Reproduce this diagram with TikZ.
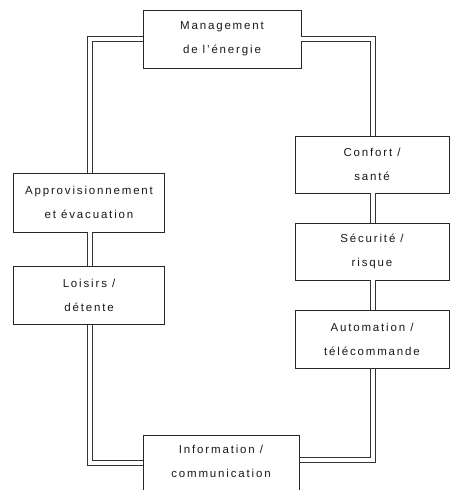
\documentclass[tikz,border=0pt]{standalone}
\usepackage{fontspec}
\setmainfont{Liberation Sans}[LetterSpace=16]
\begin{document}
\begin{tikzpicture}[x=1pt,y=-1pt,
  txt/.style={font=\fontsize{11.5}{24}\selectfont, align=center, text=black!90},
  box/.style={txt, draw=black!85, line width=0.7pt, fill=white, inner sep=0pt},
  loop/.style={draw=black!80, line width=0.6pt, double=white, double distance=4.5pt},
  rail/.style={draw=black!80, line width=0.6pt}]
\useasboundingbox (0,0) rectangle (454,490);
\node[box, minimum width=158pt, minimum height=58pt] (top) at (222,39) {Management\\de l'énergie};
\node[box, minimum width=151pt, minimum height=59pt] (appro) at (89,202.5) {Approvisionnement\\et évacuation};
\node[box, minimum width=151pt, minimum height=58pt] (lois) at (89,295) {Loisirs /\\détente};
\node[box, minimum width=154pt, minimum height=57pt] (conf) at (372,164.5) {Confort /\\santé};
\node[box, minimum width=154pt, minimum height=57pt] (secu) at (372,251.5) {Sécurité /\\risque};
\node[box, minimum width=154pt, minimum height=58pt] (auto) at (372,339) {Automation /\\télécommande};
\node[box, minimum width=156pt, minimum height=90pt, anchor=north] (info) at (221,435) {};
\node[txt, anchor=north] (infotext) at (221,442) {Information /\\communication};
% corners of the bottom rails (outer / inner)
\coordinate (blo) at (87.45,465.5);
\coordinate (bli) at (92.55,460.4);
\coordinate (bro) at (375.55,462.5);
\coordinate (bri) at (370.45,457.4);
\draw[loop] (top.west) -| ([xshift=1pt]appro.north);
\draw[loop] ([xshift=1pt]appro.south) -- ([xshift=1pt]lois.north);
\draw[rail] (lois.south -| blo) -- (blo) -- (info.west |- blo);
\draw[rail] (lois.south -| bli) -- (bli) -- (info.west |- bli);
\draw[rail] (info.east |- bro) -- (bro) -- (auto.south -| bro);
\draw[rail] (info.east |- bri) -- (bri) -- (auto.south -| bri);
\draw[loop] ([xshift=1pt]auto.north) -- ([xshift=1pt]secu.south);
\draw[loop] ([xshift=1pt]secu.north) -- ([xshift=1pt]conf.south);
\draw[loop] ([xshift=1pt]conf.north) |- (top.east);
\end{tikzpicture}
\end{document}
